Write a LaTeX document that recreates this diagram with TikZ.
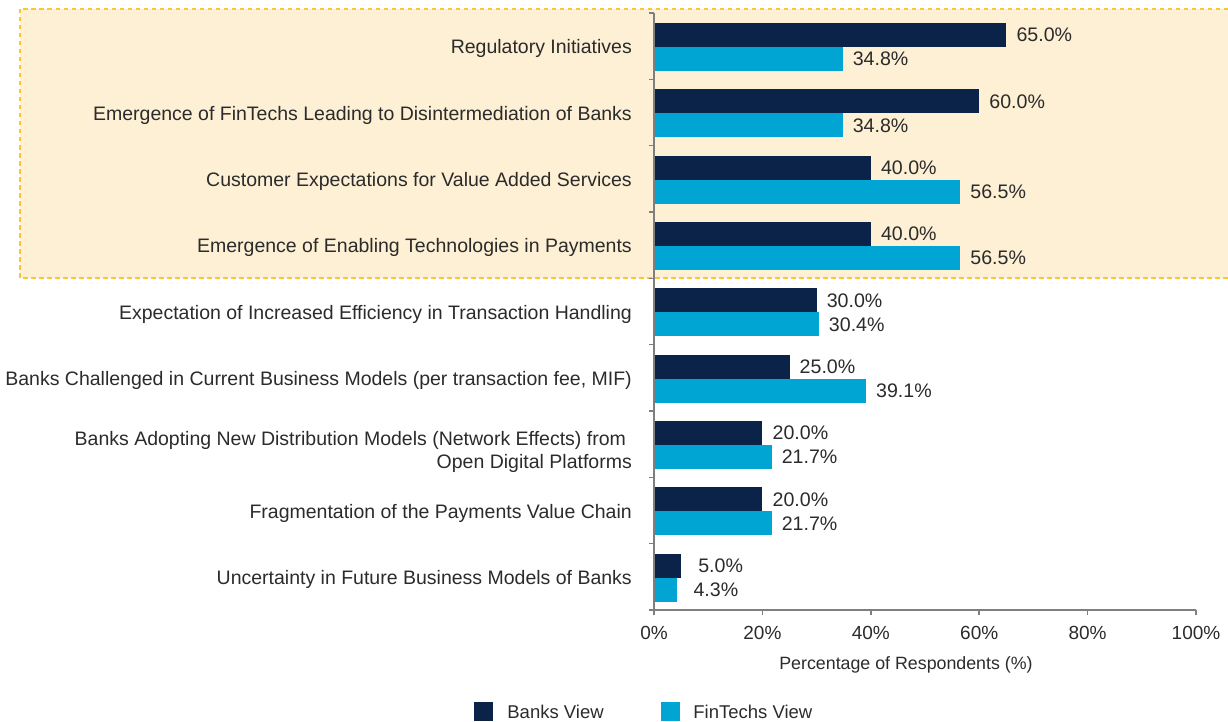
\documentclass[tikz,border=0pt]{standalone}
\usepackage{fontspec}
\setmainfont{Liberation Sans}
\usetikzlibrary{positioning}

\definecolor{banks}{HTML}{0B2249}
\definecolor{fintechs}{HTML}{00A5D4}
\definecolor{highlight}{HTML}{FDF0D4}
\definecolor{dashline}{HTML}{FDC530}
\definecolor{txt}{HTML}{2B2B2B}
\definecolor{axisgray}{HTML}{7F7F7F}

\tikzset{
    catlabel/.style={anchor=base east, yshift=-6.9pt, inner sep=0pt, text=txt,
        font=\fontsize{19.5}{23}\selectfont, align=right},
    vallabel/.style={anchor=base west, yshift=-6.9pt, inner sep=0pt, text=txt,
        font=\fontsize{19.6}{23}\selectfont},
    ticklabel/.style={inner sep=0pt, text=txt, font=\fontsize{19}{23}\selectfont},
    axisline/.style={draw=axisgray, line width=1.5pt},
    legbox/.style={minimum size=19pt, inner sep=0pt},
}

\begin{document}
\begin{tikzpicture}[x=1pt,y=-1pt]

    \def\xo{654}
    \def\pc{5.42}
    \useasboundingbox (0,0) rectangle (1228,722);

    %highlight box:
    \fill[highlight] (20,9) rectangle (1228,278);
    \draw[dashline, line width=2.5pt, dash pattern=on 4.5pt off 3.5pt]
        (1228,9) -- (20,9) -- (20,278) -- (1228,278);

    %categories:
    \node[catlabel] (cat1) at (632,47) {Regulatory Initiatives};
    \node[catlabel] (cat2) at (632,113.3) {Emergence of FinTechs Leading to Disintermediation of Banks};
    \node[catlabel] (cat3) at (632,179.7) {Customer Expectations for Value Added Services};
    \node[catlabel] (cat4) at (632,246) {Emergence of Enabling Technologies in Payments};
    \node[catlabel] (cat5) at (632,312.3) {Expectation of Increased Efficiency in Transaction Handling};
    \node[catlabel] (cat6) at (632,378.7) {Banks Challenged in Current Business Models (per transaction fee, MIF)};
    \node[catlabel, anchor=east, yshift=0pt] (cat7) at (632,445)
        {Banks Adopting New Distribution Models (Network Effects) from\hspace*{0.3em}\\Open Digital Platforms};
    \node[catlabel] (cat8) at (632,511.3) {Fragmentation of the Payments Value Chain};
    \node[catlabel] (cat9) at (632,577.7) {Uncertainty in Future Business Models of Banks};

    %banks bars:
    \fill[banks] (\xo,23) rectangle ({\xo+65*\pc},47);
    \fill[banks] (\xo,89.3) rectangle ({\xo+60*\pc},113.3);
    \fill[banks] (\xo,155.7) rectangle ({\xo+40*\pc},179.7);
    \fill[banks] (\xo,222) rectangle ({\xo+40*\pc},246);
    \fill[banks] (\xo,288.3) rectangle ({\xo+30*\pc},312.3);
    \fill[banks] (\xo,354.7) rectangle ({\xo+25*\pc},378.7);
    \fill[banks] (\xo,421) rectangle ({\xo+20*\pc},445);
    \fill[banks] (\xo,487.3) rectangle ({\xo+20*\pc},511.3);
    \fill[banks] (\xo,553.7) rectangle ({\xo+5*\pc},577.7);

    %fintechs bars:
    \fill[fintechs] (\xo,47) rectangle ({\xo+34.8*\pc},71);
    \fill[fintechs] (\xo,113.3) rectangle ({\xo+34.8*\pc},137.3);
    \fill[fintechs] (\xo,179.7) rectangle ({\xo+56.5*\pc},203.7);
    \fill[fintechs] (\xo,246) rectangle ({\xo+56.5*\pc},270);
    \fill[fintechs] (\xo,312.3) rectangle ({\xo+30.4*\pc},336.3);
    \fill[fintechs] (\xo,378.7) rectangle ({\xo+39.1*\pc},402.7);
    \fill[fintechs] (\xo,445) rectangle ({\xo+21.7*\pc},469);
    \fill[fintechs] (\xo,511.3) rectangle ({\xo+21.7*\pc},535.3);
    \fill[fintechs] (\xo,577.7) rectangle ({\xo+4.3*\pc},601.7);

    %values:
    \node[vallabel] (vb1) at ({\xo+65*\pc+10},35) {65.0\%};
    \node[vallabel] (vf1) at ({\xo+34.8*\pc+10},59) {34.8\%};
    \node[vallabel] (vb2) at ({\xo+60*\pc+10},101.3) {60.0\%};
    \node[vallabel] (vf2) at ({\xo+34.8*\pc+10},125.3) {34.8\%};
    \node[vallabel] (vb3) at ({\xo+40*\pc+10},167.7) {40.0\%};
    \node[vallabel] (vf3) at ({\xo+56.5*\pc+10},191.7) {56.5\%};
    \node[vallabel] (vb4) at ({\xo+40*\pc+10},234) {40.0\%};
    \node[vallabel] (vf4) at ({\xo+56.5*\pc+10},258) {56.5\%};
    \node[vallabel] (vb5) at ({\xo+30*\pc+10},300.3) {30.0\%};
    \node[vallabel] (vf5) at ({\xo+30.4*\pc+10},324.3) {30.4\%};
    \node[vallabel] (vb6) at ({\xo+25*\pc+10},366.7) {25.0\%};
    \node[vallabel] (vf6) at ({\xo+39.1*\pc+10},390.7) {39.1\%};
    \node[vallabel] (vb7) at ({\xo+20*\pc+10},433) {20.0\%};
    \node[vallabel] (vf7) at ({\xo+21.7*\pc+10},457) {21.7\%};
    \node[vallabel] (vb8) at ({\xo+20*\pc+10},499.3) {20.0\%};
    \node[vallabel] (vf8) at ({\xo+21.7*\pc+10},523.3) {21.7\%};
    \node[vallabel] (vb9) at ({\xo+5*\pc+17},565.7) {5.0\%};
    \node[vallabel] (vf9) at ({\xo+4.3*\pc+16},589.7) {4.3\%};

    %axes:
    \draw[axisline] (\xo,13) -- (\xo,610) -- (1196,610);
    \draw[axisline] (649,13) -- (\xo,13) (649,79.3) -- (\xo,79.3) (649,145.7) -- (\xo,145.7)
        (649,212) -- (\xo,212) (649,278.3) -- (\xo,278.3) (649,344.7) -- (\xo,344.7)
        (649,411) -- (\xo,411) (649,477.3) -- (\xo,477.3) (649,543.7) -- (\xo,543.7)
        (649,610) -- (\xo,610);
    \draw[axisline] (\xo,610) -- (\xo,615) (762.4,610) -- (762.4,615) (870.8,610) -- (870.8,615)
        (979.2,610) -- (979.2,615) (1087.6,610) -- (1087.6,615) (1196,610) -- (1196,615);

    %tick labels:
    \node[ticklabel] (t0) at (\xo,633) {0\%};
    \node[ticklabel] (t20) at (762.4,633) {20\%};
    \node[ticklabel] (t40) at (870.8,633) {40\%};
    \node[ticklabel] (t60) at (979.2,633) {60\%};
    \node[ticklabel] (t80) at (1087.6,633) {80\%};
    \node[ticklabel] (t100) at (1196,633) {100\%};
    \node[ticklabel, font=\fontsize{17.8}{21}\selectfont] (xtitle) at (906,665)
        {Percentage of Respondents (\%)};

    %legend:
    \node[legbox, fill=banks] (kbanks) at (483.5,711.5) {};
    \node[ticklabel, font=\fontsize{18.5}{21}\selectfont, right=14pt of kbanks] (lbanks) {Banks View};
    \node[legbox, fill=fintechs] (kfintechs) at (670.5,711.5) {};
    \node[ticklabel, font=\fontsize{18.5}{21}\selectfont, right=13pt of kfintechs] (lfintechs) {FinTechs View};

\end{tikzpicture}
\end{document}
